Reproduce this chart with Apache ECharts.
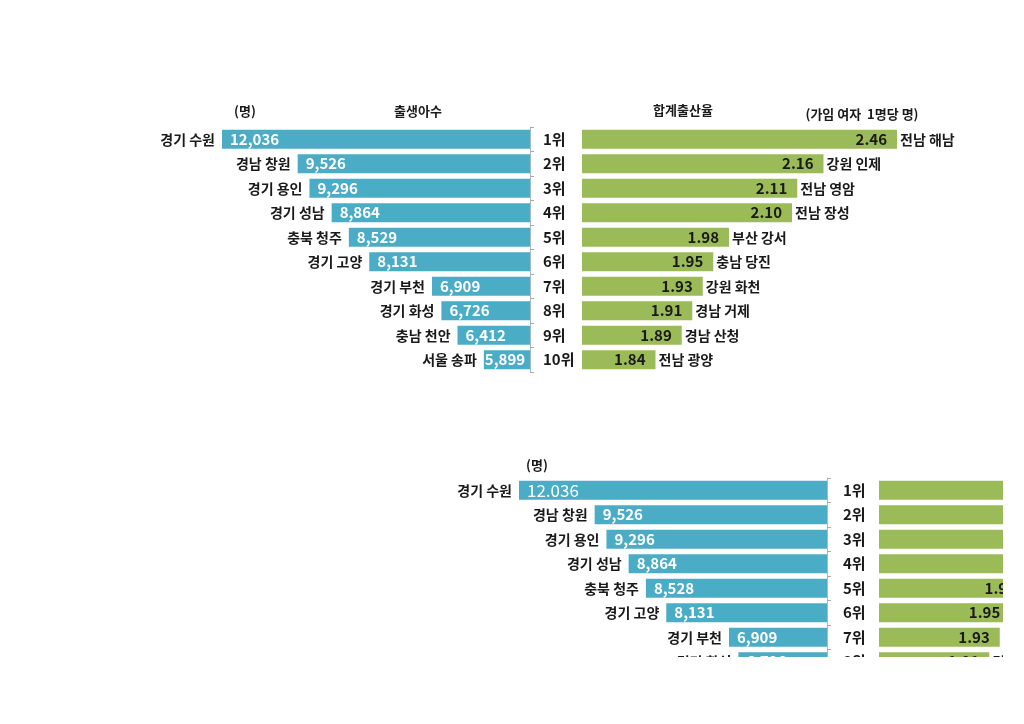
<!DOCTYPE html>
<html><head><meta charset="utf-8">
<script src="https://cdn.jsdelivr.net/npm/echarts@6/dist/echarts.min.js"></script>
<style>
html,body{margin:0;padding:0;background:#fff;}
#top{position:absolute;left:0;top:0;width:1024px;height:724px;}
#clip{position:absolute;left:0;top:440px;width:1003px;height:217px;overflow:hidden;}
#bottom{position:absolute;left:297px;top:-89px;width:1024px;height:724px;}
</style></head>
<body>
<div id="top"></div>
<div id="clip"><div id="bottom"></div></div>
<script>
const birthCities = ['경기 수원','경남 창원','경기 용인','경기 성남','충북 청주','경기 고양','경기 부천','경기 화성','충남 천안','서울 송파'];
const birthValues = [12036,9526,9296,8864,8529,8131,6909,6726,6412,5899];
const birthLabels = ['12,036','9,526','9,296','8,864','8,529','8,131','6,909','6,726','6,412','5,899'];
const birthValues2 = [12036,9526,9296,8864,8528,8131,6909,6726,6412,5899];
const birthLabels2 = ['12.036','9,526','9,296','8,864','8,528','8,131','6,909','6,726','6,412','5,899'];
const ranks = ['1위','2위','3위','4위','5위','6위','7위','8위','9위','10위'];
const tfrCities = ['전남 해남','강원 인제','전남 영암','전남 장성','부산 강서','충남 당진','강원 화천','경남 거제','경남 산청','전남 광양'];
const tfrValues = [2.46,2.16,2.11,2.10,1.98,1.95,1.93,1.91,1.89,1.84];
const tfrLabels = ['2.46','2.16','2.11','2.10','1.98','1.95','1.93','1.91','1.89','1.84'];

const FONT = '"Noto Sans CJK KR", "Noto Sans", sans-serif';
const BLUE = '#4BACC6', GREEN = '#9BBB59', DARK = '#1a1a1a';

function hdr(text, x, y) {
  return {type:'text', x:x, y:y, silent:true,
    style:{text:text, font:'bold 13px ' + FONT, fill:DARK,
      textAlign:'center', align:'center', textVerticalAlign:'middle', verticalAlign:'middle'}};
}

function buildOption(bVals, bLabels, full) {
  const graphics = [full ? hdr('(명)', 245, 111) : hdr('(명)', 240, 114)];
  if (full) {
    graphics.push(hdr('출생아수', 418, 111));
    graphics.push(hdr('합계출산율', 683, 110));
    graphics.push(hdr('(가임 여자  1명당 명)', 862, 114));
  }
  const valueData = bVals.map((v, i) => {
    const item = {value:v};
    if (i === bVals.length - 1) item.label = {distance:1};
    if (!full && i === 0) item.label = {fontWeight:'normal', fontSize:17};
    return item;
  });
  return {
    animation:false,
    textStyle:{fontFamily:FONT},
    graphic:graphics,
    grid:[
      {left:222, top:127, width:308, height:245},
      {left:582, top:127, width:315, height:245}
    ],
    xAxis:[
      {type:'value', gridIndex:0, inverse:true, min:5000, max:11000, show:false},
      {type:'value', gridIndex:1, min:1.7, max:2.3, show:false}
    ],
    yAxis:[
      {type:'category', gridIndex:0, inverse:true, position:'right', data:ranks,
        axisLine:{show:true, lineStyle:{color:'#9dbdcc', width:1}},
        axisTick:{show:true, length:4, lineStyle:{color:'#aaaaaa'}},
        axisLabel:{show:false}, splitLine:{show:false}},
      {type:'category', gridIndex:1, inverse:true, data:ranks,
        axisLine:{show:false}, axisTick:{show:false}, splitLine:{show:false},
        axisLabel:{show:true, margin:(full ? 39 : 36), align:'left', fontSize:15, fontWeight:'bold', color:DARK, fontFamily:FONT}}
    ],
    series:[
      {type:'bar', xAxisIndex:0, yAxisIndex:0, data:valueData, barWidth:19, silent:true,
        itemStyle:{color:BLUE},
        label:{show:true, position:'insideLeft', distance:8, color:'#fff', fontSize:15, fontWeight:'bold', fontFamily:FONT,
          formatter:p => bLabels[p.dataIndex]}},
      {type:'bar', xAxisIndex:0, yAxisIndex:0, data:bVals, barWidth:19, barGap:'-100%', silent:true,
        itemStyle:{color:'rgba(0,0,0,0)'},
        label:{show:true, position:'left', distance:7, color:DARK, fontSize:14, fontWeight:'bold', fontFamily:FONT,
          formatter:p => birthCities[p.dataIndex]}},
      {type:'bar', xAxisIndex:1, yAxisIndex:1, data:tfrValues, barWidth:19, silent:true,
        itemStyle:{color:GREEN},
        label:{show:true, position:'insideRight', distance:10, color:DARK, fontSize:15, fontWeight:'bold', fontFamily:FONT,
          formatter:p => tfrLabels[p.dataIndex]}},
      {type:'bar', xAxisIndex:1, yAxisIndex:1, data:tfrValues, barWidth:19, barGap:'-100%', silent:true,
        itemStyle:{color:'rgba(0,0,0,0)'},
        label:{show:true, position:'right', distance:3, color:DARK, fontSize:14, fontWeight:'bold', fontFamily:FONT,
          formatter:p => tfrCities[p.dataIndex]}}
    ]
  };
}

const c1 = echarts.init(document.getElementById('top'), null, {renderer:'canvas'});
c1.setOption(buildOption(birthValues, birthLabels, true));
const c2 = echarts.init(document.getElementById('bottom'), null, {renderer:'canvas'});
c2.setOption(buildOption(birthValues2, birthLabels2, false));
</script>
</body></html>
